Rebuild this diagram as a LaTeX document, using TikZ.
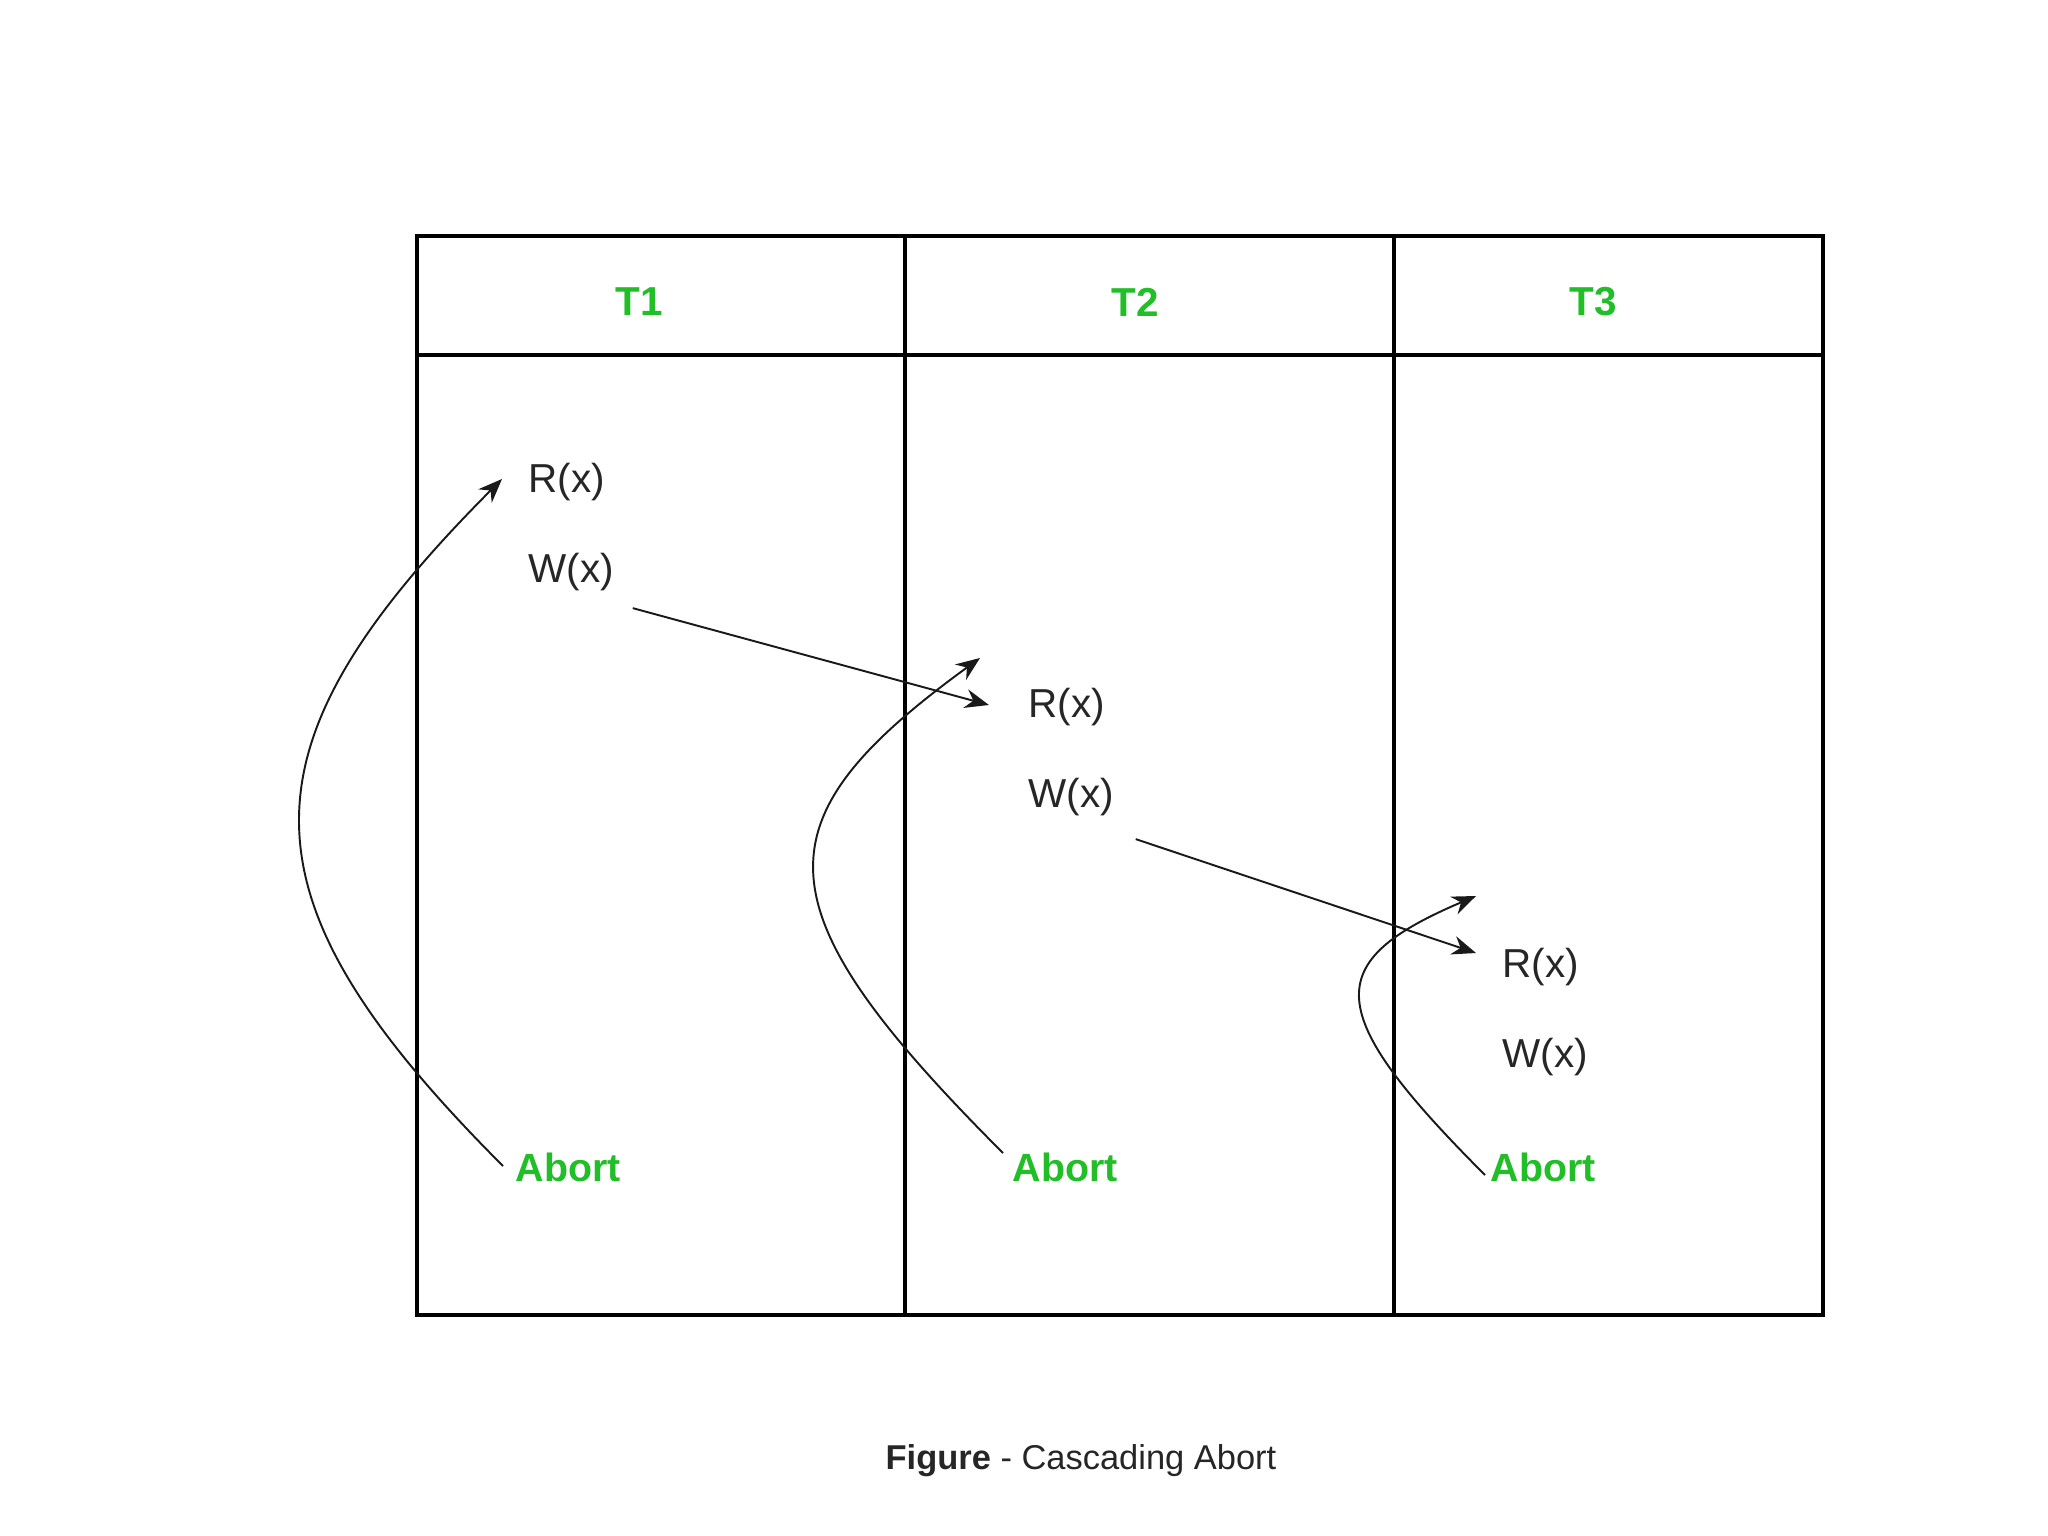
\documentclass[tikz,border=0pt]{standalone}
\usepackage{fontspec}
\setmainfont{Liberation Sans}
\usepackage{tikz}
\usetikzlibrary{arrows.meta, positioning, calc}
\definecolor{abortgreen}{RGB}{34,190,40}

\begin{document}
\begin{tikzpicture}[x=0.01cm,y=-0.01cm,
  node distance=5.1mm,
  op/.style={anchor=west,inner sep=0pt,font=\fontsize{11.5}{13}\selectfont,text=black!85},
  hdr/.style={inner sep=0pt,font=\fontsize{11.5}{13}\selectfont\bfseries,text=abortgreen},
  abortlbl/.style={op,font=\fontsize{11.2}{13}\selectfont\bfseries,text=abortgreen},
  link/.style={-{Stealth[length=2.4mm,width=1.9mm]},line width=0.55pt,black!90},
  grid/.style={line width=1pt,black}
]
\useasboundingbox (0,0) rectangle (2048,1536);

% table
\draw[grid] (417,236) rectangle (1823,1315);
\draw[grid] (417,355) -- (1823,355);
\draw[grid] (905,236) -- (905,1315);
\draw[grid] (1394,236) -- (1394,1315);

\node[hdr] (t1) at (639,302) {T1};
\node[hdr] (t2) at (1135,302) {T2};
\node[hdr] (t3) at (1593,302) {T3};

% operations
\node[op] (r1) at (528,482) {R(x)};
\node[op,below=of r1.south west,anchor=north west] (w1) {W(x)};
\node[op] (r2) at (1028,707) {R(x)};
\node[op,below=of r2.south west,anchor=north west] (w2) {W(x)};
\node[op] (r3) at (1502,967) {R(x)};
\node[op,below=of r3.south west,anchor=north west] (w3) {W(x)};

\node[abortlbl] (ab1) at (515,1167) {Abort};
\node[abortlbl] (ab2) at (1012,1167) {Abort};
\node[abortlbl] (ab3) at (1490,1167) {Abort};

% dirty reads
\draw[link] ($(w1.east)+(18,36)$) -- ($(r2.west)+(-39,-2)$);
\draw[link] ($(w2.east)+(21,42)$) -- ($(r3.west)+(-26,-14)$);

% rollbacks
\draw[link] ($(ab1.west)+(-12,-1)$) .. controls +(-270,-270) and +(-269,270) .. ($(r1.west)+(-26,-3)$);
\draw[link] ($(ab2.west)+(-9,-14)$) .. controls +(-247,-247) and +(-224,163) .. ($(r2.west)+(-48,-49)$);
\draw[link] ($(ab3.west)+(-5,8)$) .. controls +(-164,-164) and +(-155,66) .. ($(r3.west)+(-26,-71)$);

\node[text=black!85,font=\fontsize{9.8}{12}\selectfont] (cap) at (1081,1461) {\textbf{Figure} - Cascading Abort};
\end{tikzpicture}
\end{document}
